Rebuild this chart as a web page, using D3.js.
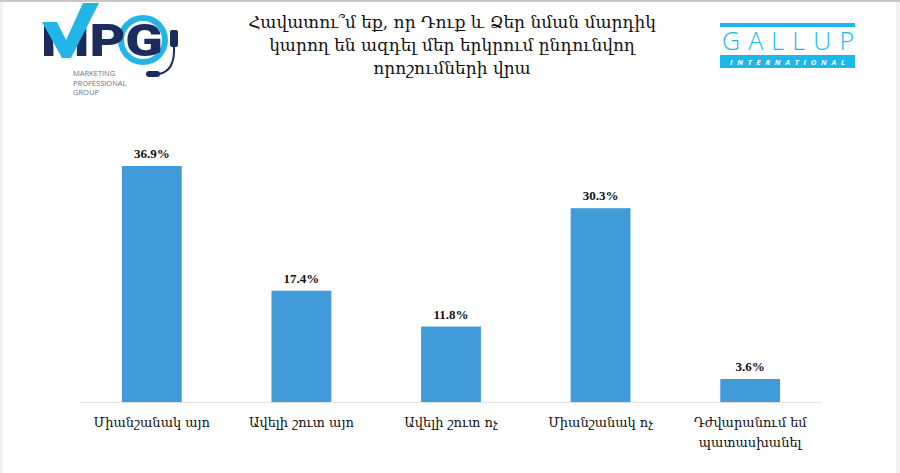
<!DOCTYPE html>
<html>
<head>
<meta charset="utf-8">
<script src="https://cdn.jsdelivr.net/npm/d3@7"></script>
<style>
  body { margin: 0; background: #fff; }
  svg { display: block; }
  .arm { font-family: "DejaVu Serif", serif; fill: #111; }
  .val { font-family: "Liberation Serif", serif; font-weight: bold; font-size: 13px; fill: #111; }
</style>
</head>
<body>
<svg id="chart" width="900" height="473"></svg>
<script>
// data
const categories = [
  ["Միանշանակ այո"],
  ["Ավելի շուտ այո"],
  ["Ավելի շուտ ոչ"],
  ["Միանշանակ ոչ"],
  ["Դժվարանում եմ", "պատասխանել"]
];
const values = [36.9, 17.4, 11.8, 30.3, 3.6];
const titleLines = [
  "Հավատու՞մ եք, որ Դուք և Ձեր նման մարդիկ",
  "կարող են ազդել մեր երկրում ընդունվող",
  "որոշումների վրա"
];

const width = 900, height = 473;
const svg = d3.select("#chart");

// page frame
svg.append("rect").attr("x", 0).attr("y", 0).attr("width", width).attr("height", height).attr("fill", "#fff");
svg.append("rect").attr("x", 0).attr("y", 0).attr("width", width).attr("height", 2).attr("fill", "#c9c9c9");
svg.append("rect").attr("x", 0).attr("y", 2).attr("width", 3).attr("height", height).attr("fill", "#f1f1f1");
svg.append("rect").attr("x", 896).attr("y", 2).attr("width", 4).attr("height", height).attr("fill", "#f1f1f1");

// title
svg.append("g").selectAll("text")
  .data(titleLines)
  .join("text")
  .attr("class", "arm")
  .attr("x", 452)
  .attr("y", (d, i) => 28 + i * 23)
  .attr("text-anchor", "middle")
  .attr("font-size", 17)
  .text(d => d);

// scales
const x = d3.scaleBand()
  .domain(d3.range(values.length))
  .range([80, 822])
  .paddingInner(0.6)
  .paddingOuter(0.28);
const y = d3.scaleLinear()
  .domain([0, 36.9])
  .range([402, 166]);

// baseline
svg.append("line")
  .attr("x1", 80).attr("x2", 822)
  .attr("y1", 402.5).attr("y2", 402.5)
  .attr("stroke", "#e3e3e3").attr("stroke-width", 1.2);

svg.append("g").selectAll("rect")
  .data(values)
  .join("rect")
  .attr("x", (d, i) => x(i))
  .attr("width", x.bandwidth())
  .attr("y", d => y(d))
  .attr("height", d => y(0) - y(d))
  .attr("fill", "#429bd9");

svg.append("g").selectAll("text")
  .data(values)
  .join("text")
  .attr("class", "val")
  .attr("x", (d, i) => x(i) + x.bandwidth() / 2)
  .attr("y", d => y(d) - 8)
  .attr("text-anchor", "middle")
  .text(d => d.toFixed(1) + "%");

// category labels
const cat = svg.append("g").selectAll("text")
  .data(categories)
  .join("text")
  .attr("class", "arm")
  .attr("font-size", 13)
  .attr("text-anchor", "middle")
  .attr("x", (d, i) => x(i) + x.bandwidth() / 2)
  .attr("y", 427);
cat.selectAll("tspan")
  .data(d => d)
  .join("tspan")
  .attr("x", function() { return d3.select(this.parentNode).attr("x"); })
  .attr("dy", (d, i) => i ? 20 : 0)
  .text(d => d);

// MPG logo
const mpg = svg.append("g");
mpg.append("circle").attr("cx", 143).attr("cy", 40).attr("r", 22)
  .attr("fill", "none").attr("stroke", "#22b5e8").attr("stroke-width", 6);
mpg.append("rect").attr("x", 170).attr("y", 30).attr("width", 8).attr("height", 17).attr("rx", 2)
  .attr("fill", "#1b2b5b");
mpg.append("path")
  .attr("d", "M174,47 Q175,72 158,74")
  .attr("fill", "none").attr("stroke", "#1b2b5b").attr("stroke-width", 2);
mpg.append("rect").attr("x", 146).attr("y", 71).attr("width", 14).attr("height", 6).attr("rx", 3).attr("fill", "#1b2b5b");
mpg.append("text")
  .attr("x", 41).attr("y", 56)
  .attr("font-family", "Roboto, 'Open Sans', sans-serif")
  .attr("font-weight", 900).attr("font-size", 45)
  .attr("textLength", 122).attr("lengthAdjust", "spacingAndGlyphs")
  .attr("fill", "#1b2b5b")
  .text("MPG");
mpg.append("path")
  .attr("d", "M42,22 L57,22 L66,40 L83,3 L99,3 L71,58 L62,58 Z")
  .attr("fill", "#22b5e8");
mpg.append("g").selectAll("text")
  .data(["MARKETING", "PROFESSIONAL", "GROUP"])
  .join("text")
  .attr("x", 73)
  .attr("y", (d, i) => 76 + i * 9.5)
  .attr("font-family", "'Open Sans', sans-serif")
  .attr("font-size", 7.5)
  .attr("fill", "#6a7388")
  .text(d => d);

// Gallup logo
const gal = svg.append("g");
gal.append("rect").attr("x", 720).attr("y", 23).attr("width", 135).attr("height", 4).attr("fill", "#1cb8ea");
gal.append("text")
  .attr("x", 722).attr("y", 50)
  .attr("font-family", "'Open Sans', sans-serif")
  .attr("font-weight", 300).attr("font-size", 25)
  .attr("textLength", 132).attr("lengthAdjust", "spacing")
  .attr("fill", "#1cb8ea")
  .text("GALLUP");
gal.append("rect").attr("x", 720).attr("y", 55).attr("width", 135).attr("height", 13).attr("fill", "#1cb8ea");
gal.append("text")
  .attr("x", 730).attr("y", 65)
  .attr("font-family", "'Open Sans', sans-serif")
  .attr("font-weight", 700).attr("font-style", "italic").attr("font-size", 7.5)
  .attr("textLength", 115).attr("lengthAdjust", "spacing")
  .attr("fill", "#fff")
  .text("INTERNATIONAL");
</script>
</body>
</html>
